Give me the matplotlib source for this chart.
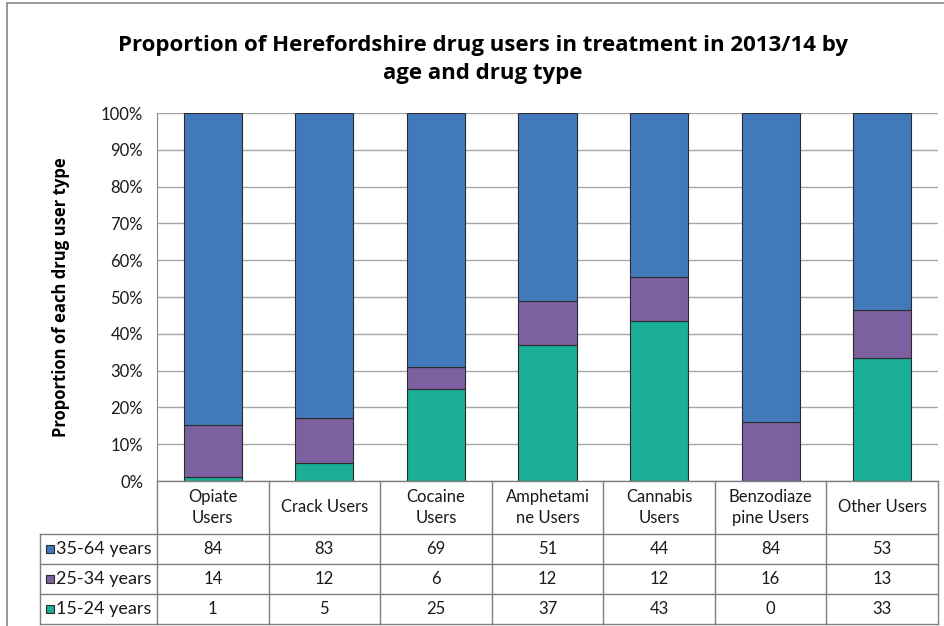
import numpy as np
import matplotlib.pyplot as plt
from matplotlib.lines import Line2D
from matplotlib.patches import Rectangle
from matplotlib.ticker import PercentFormatter

plt.rcParams['font.family'] = ['Lato', 'DejaVu Sans']
bold_font = dict(family=['Open Sans', 'DejaVu Sans'], fontstretch='condensed', fontweight='bold')

categories = ["Opiate\nUsers", "Crack Users", "Cocaine\nUsers", "Amphetami\nne Users",
              "Cannabis\nUsers", "Benzodiaze\npine Users", "Other Users"]
series = ["35-64 years", "25-34 years", "15-24 years"]
age_35_64 = [84, 83, 69, 51, 44, 84, 53]
age_25_34 = [14, 12, 6, 12, 12, 16, 13]
age_15_24 = [1, 5, 25, 37, 43, 0, 33]
colors = ["#4279BA", "#7D60A0", "#1BAF97"]

W, H = 945, 626
fig = plt.figure(figsize=(W / 100, H / 100), dpi=100)

def fx(px):
    return px / W

def fy(py):
    return 1 - py / H

ax_l, ax_r, ax_t, ax_b = 157, 938, 113, 481
ax = fig.add_axes([fx(ax_l), fy(ax_b), fx(ax_r - ax_l), fy(ax_t) - fy(ax_b)])

vals = [np.array(age_35_64, float), np.array(age_25_34, float), np.array(age_15_24, float)]
total = vals[0] + vals[1] + vals[2]
x = np.arange(len(categories))

# stack from the bottom: 15-24, 25-34, 35-64
bottom = np.zeros(len(x))
for i in [2, 1, 0]:
    h = vals[i] / total
    ax.bar(x, h, 0.52, bottom=bottom, color=colors[i], edgecolor="#2b2b2b",
           linewidth=0.8, zorder=3)
    bottom += h

ax.set_xlim(-0.5, len(x) - 0.5)
ax.set_ylim(0, 1)
ax.set_yticks(np.arange(0, 1.01, 0.1))
ax.yaxis.set_major_formatter(PercentFormatter(1.0, decimals=0))
ax.tick_params(axis='y', labelsize=12, length=0, pad=10, labelcolor="#1a1a1a")
ax.set_xticks([])
ax.grid(axis='y', color="#a6a6a6", linewidth=1, zorder=0)
for s in ["top", "right", "bottom"]:
    ax.spines[s].set_visible(False)
ax.spines["left"].set_color("#868686")

ax.set_ylabel("Proportion of each drug user type", fontsize=12, **bold_font)
ax.yaxis.set_label_coords((70 - ax_l) / (ax_r - ax_l), 0.5)

fig.text(fx(483), fy(45), "Proportion of Herefordshire drug users in treatment in 2013/14 by",
         ha="center", va="center", fontsize=16, **bold_font)
fig.text(fx(483), fy(74), "age and drug type", ha="center", va="center",
         fontsize=16, **bold_font)

# data table under the axis
row_y = [481, 534, 564, 594, 624]
tab_left = 40
step = (ax_r - ax_l) / len(categories)
col_x = [ax_l + step * i for i in range(len(categories) + 1)]
lc = "#7f7f7f"

def hline(y, x0, x1):
    fig.add_artist(Line2D([fx(x0), fx(x1)], [fy(y), fy(y)], color=lc, lw=1))

def vline(x0, y0, y1):
    fig.add_artist(Line2D([fx(x0), fx(x0)], [fy(y0), fy(y1)], color=lc, lw=1))

hline(row_y[0], ax_l, ax_r)
for y in row_y[1:]:
    hline(y, tab_left, ax_r)
for cx in col_x:
    vline(cx, row_y[0], row_y[-1])
vline(tab_left, row_y[1], row_y[-1])

for j, c in enumerate(categories):
    fig.text(fx(col_x[j] + step / 2), fy((row_y[0] + row_y[1]) / 2), c, ha="center",
             va="center", fontsize=12, linespacing=1.35, color="#1a1a1a")

for i, (name, v) in enumerate(zip(series, vals)):
    yc = (row_y[i + 1] + row_y[i + 2]) / 2
    fig.add_artist(Rectangle((fx(tab_left + 6), fy(yc + 4)), fx(8), fy(yc - 4) - fy(yc + 4),
                             facecolor=colors[i], edgecolor="#2b2b2b", lw=0.8))
    fig.text(fx(tab_left + 16), fy(yc), name, ha="left", va="center", fontsize=13,
             color="#1a1a1a")
    for j, n in enumerate(v):
        fig.text(fx(col_x[j] + step / 2), fy(yc), str(int(n)), ha="center", va="center",
                 fontsize=12, color="#1a1a1a")

# outer chart border
fig.add_artist(Rectangle((fx(7), fy(H + 10)), fx(W + 10), fy(3) - fy(H + 10),
                         fill=False, edgecolor="#868686", lw=1.2))

fig.savefig("out.png", dpi=100)
